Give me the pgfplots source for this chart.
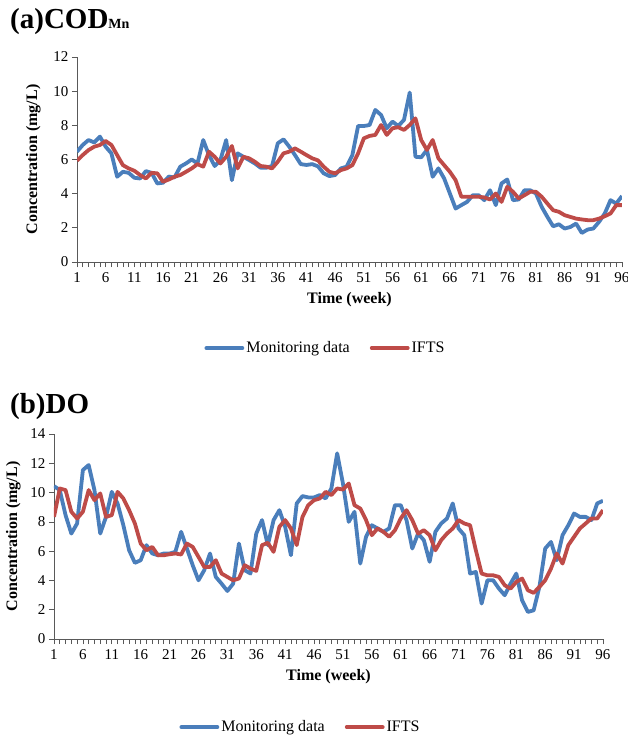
\documentclass[border=0pt]{standalone}
\usepackage{pgfplots}
\pgfplotsset{compat=1.18}
\usepackage{pgfplotstable}
\usepackage{fontspec}
\setmainfont{Liberation Serif}
\definecolor{mblue}{HTML}{4A7EBB}
\definecolor{mred}{HTML}{BE4B48}
\definecolor{axgray}{HTML}{595959}

% Panel (a): COD_Mn  (week, monitoring, IFTS)
\pgfplotstableread{
w mon ifts
1 6.46 5.93
2 6.85 6.26
3 7.14 6.55
4 7.00 6.75
5 7.34 6.85
6 6.75 7.08
7 6.36 6.85
8 4.99 6.26
9 5.28 5.67
10 5.22 5.48
11 4.93 5.34
12 4.89 5.09
13 5.32 4.89
14 5.22 5.22
15 4.60 5.19
16 4.64 4.70
17 5.00 4.83
18 4.95 4.99
19 5.58 5.09
20 5.77 5.28
21 6.00 5.48
22 5.77 5.73
23 7.14 5.58
24 6.26 6.46
25 5.62 6.16
26 5.97 5.77
27 7.14 6.16
28 4.79 6.79
29 6.36 5.48
30 6.16 6.16
31 5.97 6.07
32 5.77 5.87
33 5.52 5.62
34 5.52 5.58
35 5.62 5.48
36 6.95 5.87
37 7.18 6.36
38 6.75 6.46
39 6.26 6.65
40 5.73 6.46
41 5.68 6.26
42 5.73 6.07
43 5.60 5.95
44 5.19 5.58
45 5.03 5.28
46 5.09 5.19
47 5.48 5.38
48 5.58 5.48
49 6.26 5.67
50 7.96 6.36
51 7.96 7.24
52 8.02 7.38
53 8.90 7.44
54 8.61 8.02
55 7.83 7.44
56 8.22 7.83
57 7.96 7.89
58 8.32 7.73
59 9.92 8.02
60 6.16 8.41
61 6.13 7.14
62 6.56 6.56
63 4.99 7.14
64 5.48 6.07
65 4.89 5.67
66 4.01 5.28
67 3.13 4.79
68 3.33 3.82
69 3.52 3.82
70 3.91 3.82
71 3.91 3.82
72 3.62 3.78
73 4.20 3.66
74 3.33 4.01
75 4.60 3.52
76 4.83 4.40
77 3.62 4.11
78 3.66 3.72
79 4.20 3.91
80 4.20 4.11
81 4.01 4.11
82 3.23 3.82
83 2.64 3.42
84 2.09 3.03
85 2.21 2.94
86 1.96 2.74
87 2.05 2.64
88 2.25 2.54
89 1.70 2.49
90 1.90 2.45
91 1.96 2.45
92 2.35 2.54
93 2.84 2.68
94 3.62 2.84
95 3.42 3.33
96 3.86 3.33
}\tabA

% Panel (b): DO  (week, monitoring, IFTS)
\pgfplotstableread{
w mon ifts
1 10.44 8.34
2 10.17 10.28
3 8.46 10.17
4 7.20 8.69
5 7.89 8.23
6 11.54 8.69
7 11.88 10.17
8 10.17 9.48
9 7.20 9.94
10 8.34 8.34
11 10.05 8.46
12 9.26 10.05
13 7.77 9.60
14 6.06 8.80
15 5.20 7.89
16 5.38 6.52
17 6.41 6.06
18 5.84 6.29
19 5.72 5.72
20 5.84 5.72
21 5.84 5.79
22 5.95 5.84
23 7.32 5.77
24 6.18 6.52
25 5.04 6.29
26 4.01 5.61
27 4.70 4.92
28 5.84 4.92
29 4.24 5.38
30 3.78 4.47
31 3.28 4.24
32 3.78 4.01
33 6.52 4.13
34 4.70 5.04
35 4.47 4.81
36 7.20 4.65
37 8.12 6.41
38 6.41 6.57
39 8.12 5.95
40 8.80 7.66
41 7.66 8.12
42 5.72 7.55
43 9.26 6.41
44 9.76 8.34
45 9.67 9.14
46 9.67 9.48
47 9.83 9.60
48 9.60 10.05
49 10.28 9.83
50 12.68 10.28
51 10.62 10.21
52 8.00 10.62
53 8.69 9.14
54 5.15 8.91
55 6.98 8.12
56 7.77 7.09
57 7.55 7.55
58 7.32 7.32
59 7.55 6.98
60 9.14 7.43
61 9.14 8.23
62 8.12 8.80
63 6.18 8.12
64 7.20 7.20
65 6.75 7.43
66 5.27 7.09
67 7.32 6.06
68 7.89 6.75
69 8.23 7.20
70 9.26 7.55
71 7.55 8.12
72 7.09 7.89
73 4.47 7.77
74 4.58 6.06
75 2.42 4.47
76 4.01 4.35
77 4.01 4.35
78 3.44 4.24
79 2.99 3.67
80 3.78 3.44
81 4.47 3.90
82 2.64 4.13
83 1.85 3.33
84 1.96 3.15
85 3.56 3.56
86 6.18 4.01
87 6.63 4.81
88 5.38 5.84
89 7.09 5.15
90 7.77 6.41
91 8.57 6.98
92 8.34 7.55
93 8.34 7.89
94 8.12 8.23
95 9.26 8.23
96 9.44 8.80
}\tabB

\pgfplotsset{
  mystyle/.style={
    scale only axis,
    axis lines=left,
    axis line style={-, draw=axgray, line width=0.8pt},
    xmin=1, xmax=96, ymin=0,
    xtick={1,6,...,96}, minor xtick={1,...,96},
    tick align=outside, major tick length=5pt, minor tick length=5pt,
    tick style={draw=axgray, line width=0.7pt},
    every tick label/.append style={font=\fontsize{15}{17}\selectfont},
    xticklabel style={yshift=-2pt},
    /pgf/number format/assume math mode=true,
    xlabel={\textbf{Time (week)}},
    ylabel={\textbf{Concentration (mg/L)}},
    label style={font=\fontsize{16}{18}\selectfont},
    xlabel style={yshift=-3pt},
    legend columns=2,
    legend style={draw=none, fill=none, font=\fontsize{16}{18}\selectfont,
      /tikz/every even column/.append style={column sep=18pt}},
    legend image code/.code={\draw[##1, line width=3.8pt, line cap=round] (0pt,0pt) -- (36pt,0pt);},
    every axis plot/.append style={line width=3.8pt, line join=round, no marks},
  }
}

\begin{document}
\begin{tikzpicture}
\useasboundingbox (0,0) rectangle (628pt,-737pt);

% ---------- (a) COD_Mn ----------
\node[anchor=base west, inner sep=0pt, font=\fontsize{29}{32}\selectfont\bfseries] at (10pt,-28pt)
  {(a)COD{\fontsize{14}{14}\selectfont Mn}};
\begin{axis}[mystyle,
  at={(77pt,-262pt)}, anchor=south west,
  width=545pt, height=205pt,
  ymax=12, ytick={0,2,...,12},
  ylabel style={yshift=6pt},
  legend style={at={(0.456,-0.42)}, anchor=center},
]
\addplot[mblue] table[x=w, y=mon] {\tabA};
\addplot[mred] table[x=w, y=ifts] {\tabA};
\legend{Monitoring data, IFTS}
\end{axis}

% ---------- (b) DO ----------
\node[anchor=base west, inner sep=0pt, font=\fontsize{29}{32}\selectfont\bfseries] at (10pt,-413pt)
  {(b)DO};
\begin{axis}[mystyle,
  at={(54pt,-639pt)}, anchor=south west,
  width=549pt, height=205pt,
  ymax=14, ytick={0,2,...,14},
  ylabel style={yshift=3pt},
  legend style={at={(0.449,-0.43)}, anchor=center},
]
\addplot[mblue] table[x=w, y=mon] {\tabB};
\addplot[mred] table[x=w, y=ifts] {\tabB};
\legend{Monitoring data, IFTS}
\end{axis}
\end{tikzpicture}
\end{document}
